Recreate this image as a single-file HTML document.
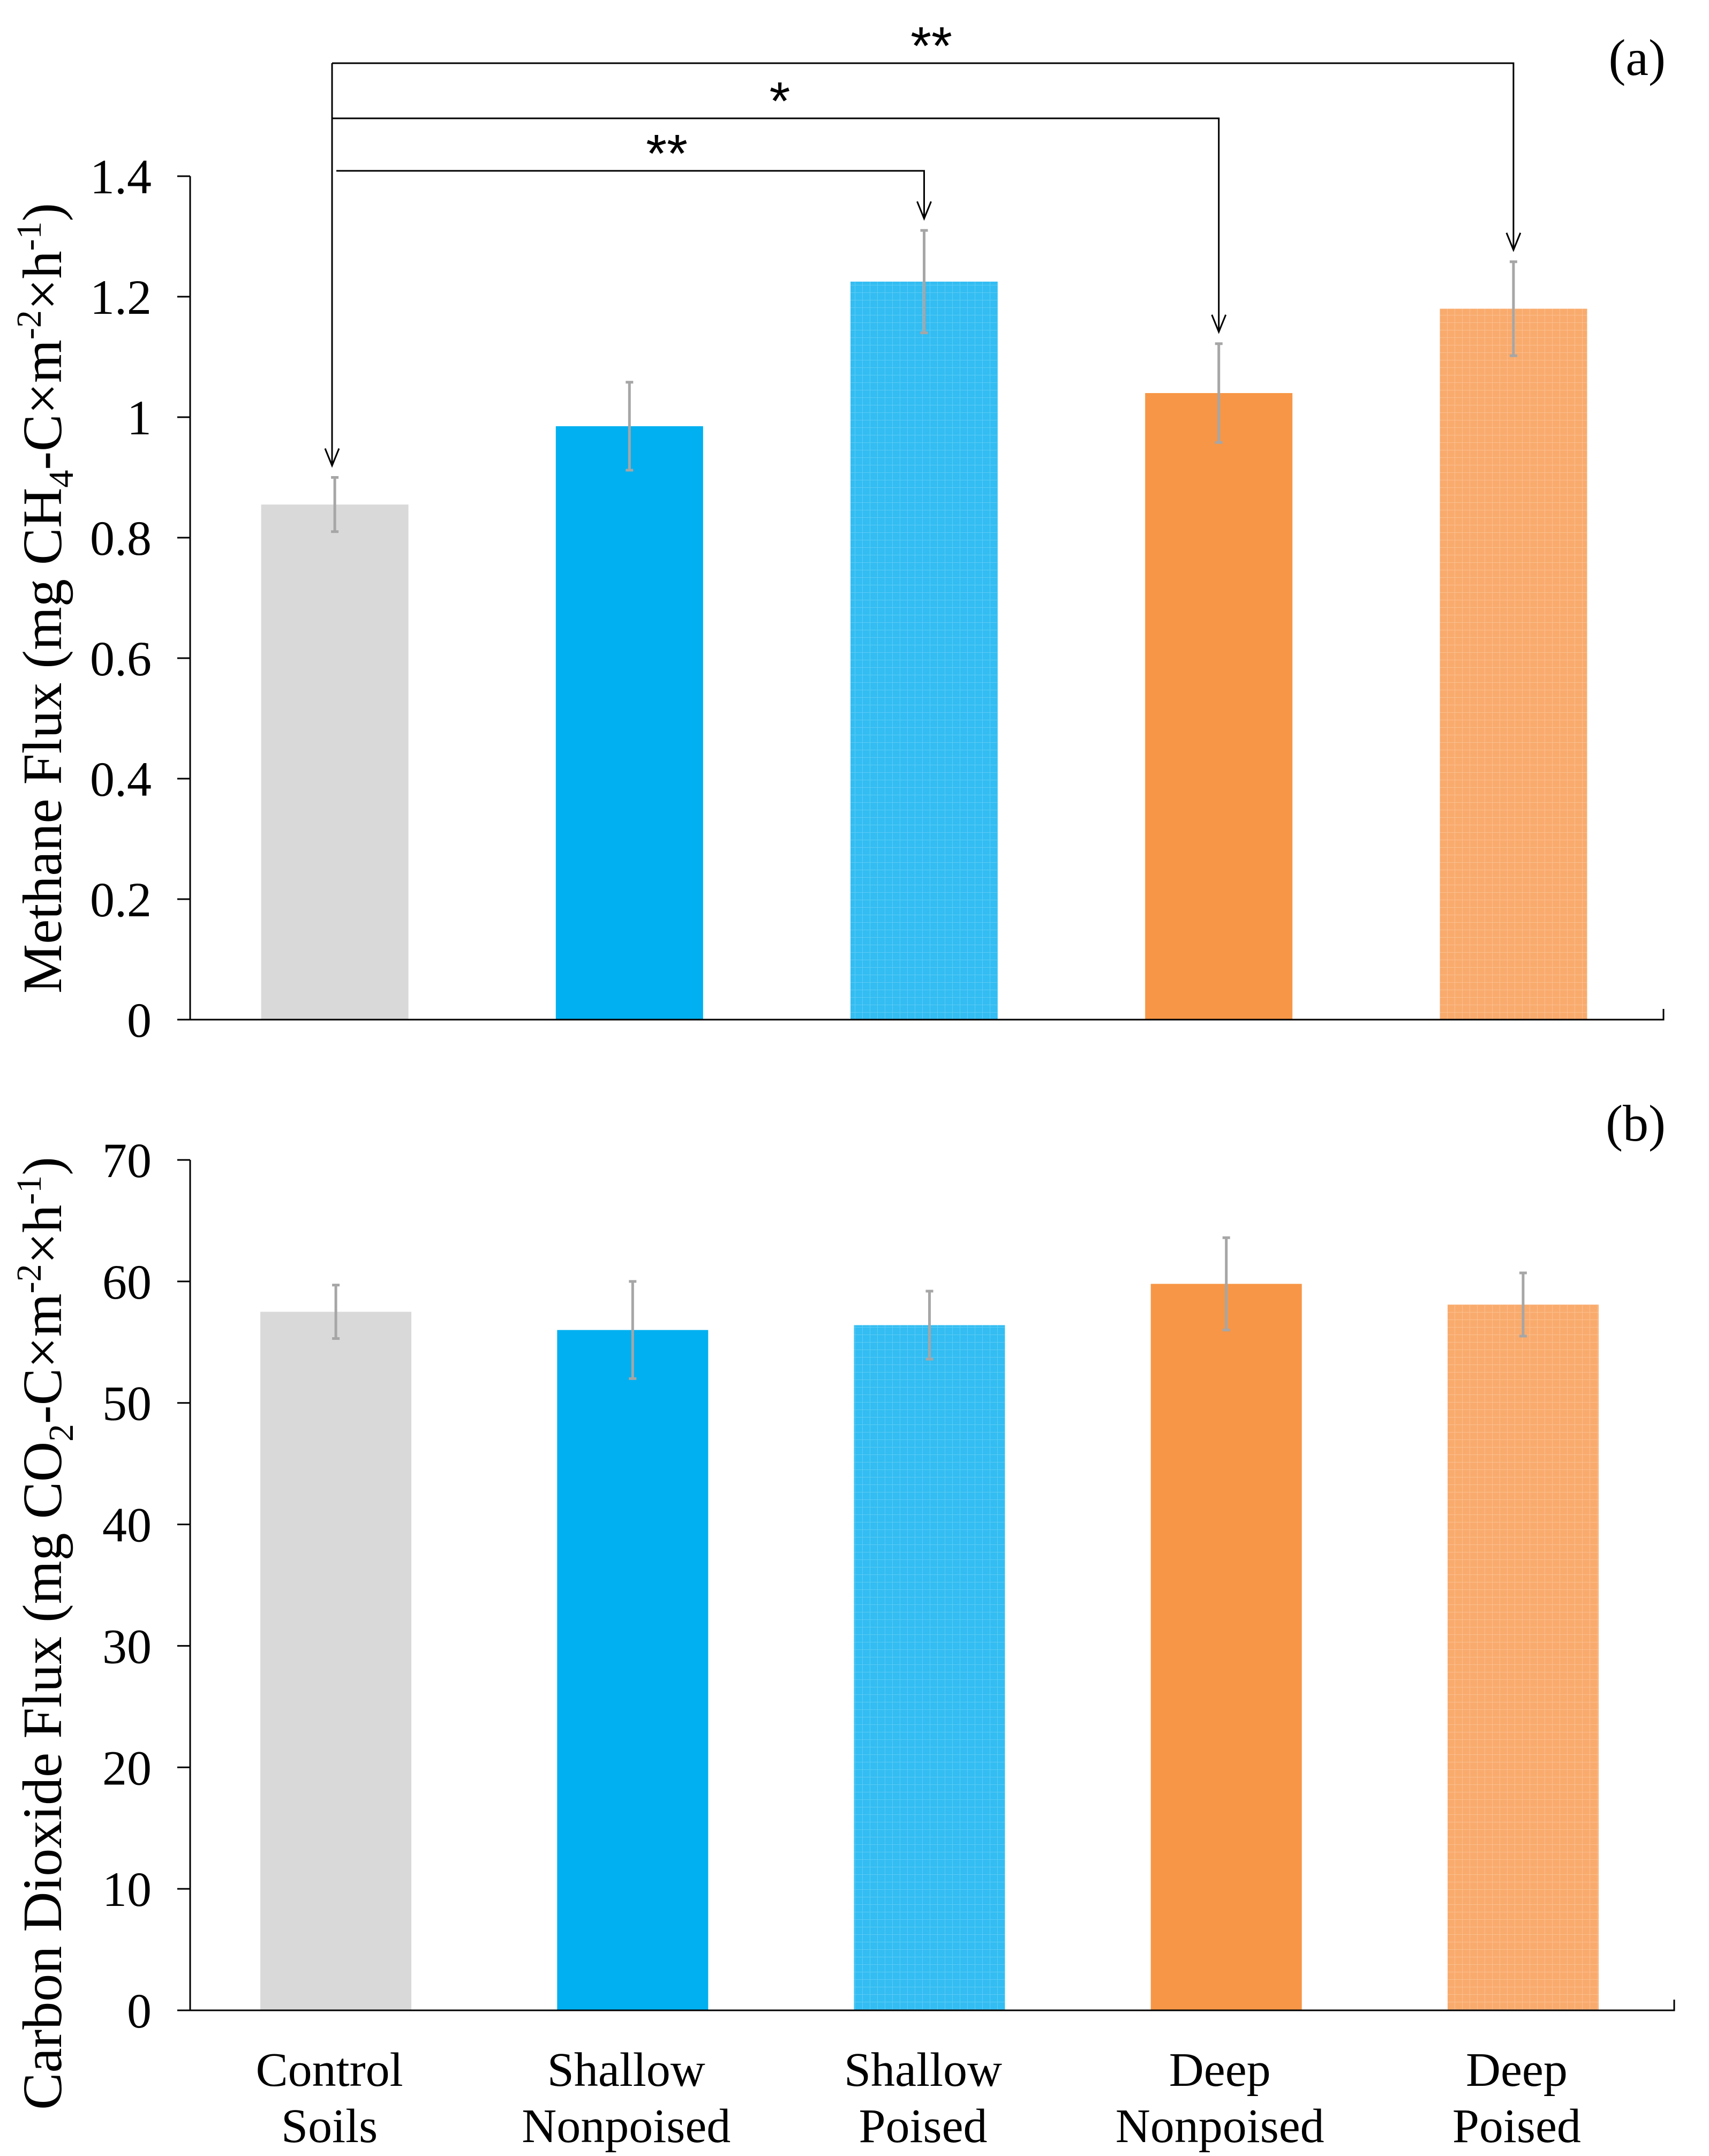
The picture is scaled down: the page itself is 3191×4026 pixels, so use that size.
<!DOCTYPE html>
<html><head><meta charset="utf-8"><style>
html,body{margin:0;padding:0;background:#fff;}
svg{display:block;font-family:"Liberation Serif",serif;}
</style></head><body>
<svg id="chart" width="3191" height="4026" viewBox="0 0 3191 4026" xmlns="http://www.w3.org/2000/svg">
<defs>
<pattern id="gridB" width="14" height="14" patternUnits="userSpaceOnUse"><rect width="14" height="14" fill="#33bdf2"/><path d="M0 0H14M0 0V14" stroke="#5ccbf5" stroke-width="2"/></pattern>
<pattern id="gridO" width="14" height="14" patternUnits="userSpaceOnUse"><rect width="14" height="14" fill="#f9ab6d"/><path d="M0 0H14M0 0V14" stroke="#fbbf8f" stroke-width="2"/></pattern>
</defs>
</svg>
<script>
const categories = [["Control","Soils"],["Shallow","Nonpoised"],["Shallow","Poised"],["Deep","Nonpoised"],["Deep","Poised"]];
const ch4Values = [0.855, 0.985, 1.225, 1.04, 1.18];
const ch4Err = [0.045, 0.073, 0.085, 0.082, 0.078];
const co2Values = [57.5, 56.0, 56.4, 59.8, 58.1];
const co2Err = [2.2, 4.0, 2.8, 3.8, 2.6];
const ch4Ticks = [0, 0.2, 0.4, 0.6, 0.8, 1, 1.2, 1.4];
const co2Ticks = [0, 10, 20, 30, 40, 50, 60, 70];
const fills = ["#d9d9d9","#00b0f0","url(#gridB)","#f79646","url(#gridO)"];

const svg = document.getElementById('chart');
const NS = "http://www.w3.org/2000/svg";
function mk(tag, attrs, parent){const e=document.createElementNS(NS,tag);for(const k in attrs)e.setAttribute(k,attrs[k]);(parent||svg).appendChild(e);return e;}

function panel(cfg){
  const g = mk('g',{});
  
  
  const band = (cfg.x1 - cfg.x0)/categories.length;
  const yS = v => cfg.y0 - v/cfg.max * (cfg.y0 - cfg.yTop);
  const xS = i => cfg.x0 + band*(i+0.5) - 5;
  cfg.values.forEach((v,i)=>{
    const r = mk('rect',{x:xS(i)-cfg.bw/2,y:yS(v),width:cfg.bw,height:cfg.y0-yS(v),fill:fills[i]},g);
    
    
  });
  cfg.values.forEach((v,i)=>{
    const e = cfg.err[i], x=xS(i);
    const eg = mk('g',{stroke:'#a6a6a6','stroke-width':5},g);
    
    
    mk('line',{x1:x,x2:x,y1:yS(v-e),y2:yS(v+e)},eg);
    mk('line',{x1:x-7,x2:x+7,y1:yS(v-e),y2:yS(v-e)},eg);
    mk('line',{x1:x-7,x2:x+7,y1:yS(v+e),y2:yS(v+e)},eg);
  });
  const ax = mk('path',{d:`M${cfg.x0} ${cfg.yTop}V${cfg.y0}H${cfg.x1}v-20`,fill:'none',stroke:'#000','stroke-width':3},g);
  
  
  cfg.ticks.forEach(t=>{
    const y=yS(t);
    mk('line',{x1:cfg.x0-24,x2:cfg.x0,y1:y,y2:y,stroke:'#000','stroke-width':3},g);
    const tx = mk('text',{x:cfg.x0-72,y:y+32,'font-size':92,'text-anchor':'end',fill:'#000'},g);
    tx.textContent = String(t);
    
    
  });
  return {xS,yS};
}

const topPanel = panel({name:'methane-panel',x0:355,x1:3106,y0:1904,yTop:329,max:1.4,values:ch4Values,err:ch4Err,ticks:ch4Ticks,bw:275});
const botPanel = panel({name:'co2-panel',x0:355,x1:3126,y0:3754,yTop:2166,max:70,values:co2Values,err:co2Err,ticks:co2Ticks,bw:282});

categories.forEach((c,i)=>{
  const x = botPanel.xS(i) - 12;
  const t = mk('text',{x:x,y:3895,'font-size':90,'text-anchor':'middle'});
  
  
  mk('tspan',{x:x,y:3895},t).textContent=c[0];
  mk('tspan',{x:x,y:4000},t).textContent=c[1];
});

const yt1 = mk('text',{transform:'translate(114 1117) rotate(-90)','font-size':104,'text-anchor':'middle'});


yt1.innerHTML = 'Methane  Flux (mg CH<tspan font-size="66" dy="22">4</tspan><tspan dy="-22">-C×m</tspan><tspan font-size="66" dy="-38">-2</tspan><tspan dy="38">×h</tspan><tspan font-size="66" dy="-38">-1</tspan><tspan dy="38">)</tspan>';
const yt2 = mk('text',{transform:'translate(114 3050) rotate(-90)','font-size':104,'text-anchor':'middle'});


yt2.innerHTML = 'Carbon Dioxide Flux (mg CO<tspan font-size="66" dy="22">2</tspan><tspan dy="-22">-C×m</tspan><tspan font-size="66" dy="-38">-2</tspan><tspan dy="38">×h</tspan><tspan font-size="66" dy="-38">-1</tspan><tspan dy="38">)</tspan>';

const pa = mk('text',{x:3110,y:140,'font-size':96,'text-anchor':'end'}); pa.textContent='(a)';


const pb = mk('text',{x:3110,y:2130,'font-size':96,'text-anchor':'end'}); pb.textContent='(b)';



const sig = mk('g',{stroke:'#000','stroke-width':3,fill:'none'});


function arrow(x,yTip){
  mk('path',{d:`M${x-13} ${yTip-32}L${x} ${yTip}L${x+13} ${yTip-32}`},sig);
}
const cx0 = 620;
const ctrlTip = topPanel.yS(ch4Values[0]+ch4Err[0])-22;
mk('path',{d:`M${cx0} 118V${ctrlTip}`},sig);
arrow(cx0, ctrlTip);
const levels=[[2,319,'**',1245],[3,221,'*',1456],[4,118,'**',1739]];
levels.forEach(([i,y,s,sx])=>{
  const x = topPanel.xS(i);
  const tip = topPanel.yS(ch4Values[i]+ch4Err[i])-22;
  mk('path',{d:`M${i===2?628:cx0} ${y}H${x}V${tip}`},sig);
  arrow(x,tip);
  const st = mk('text',{x:sx,y:y+2,'font-size':100,'text-anchor':'middle',fill:'#000',stroke:'none','font-family':'"Liberation Sans",sans-serif'},sig);
  st.textContent = s;
  
  
});
</script>
</body></html>
